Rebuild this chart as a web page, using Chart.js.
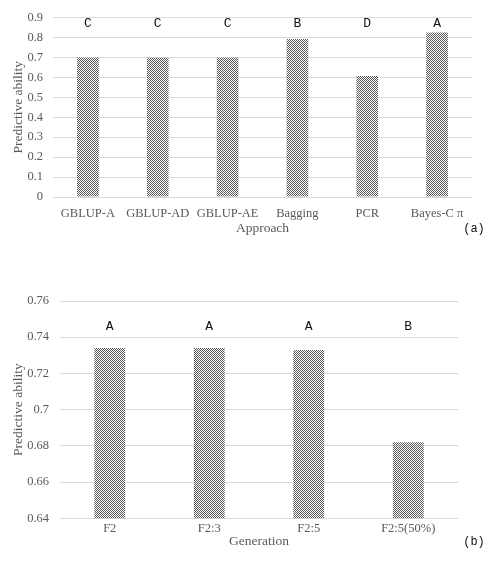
<!DOCTYPE html>
<html>
<head>
<meta charset="utf-8">
<script src="https://cdn.jsdelivr.net/npm/chart.js@4.4.0/dist/chart.umd.min.js"></script>
<style>
  body { margin: 0; background: #fff; }
  #wrapA { position: absolute; left: 0; top: 0; width: 490px; height: 250px; }
  #wrapB { position: absolute; left: 0; top: 270px; width: 490px; height: 291px; }
</style>
</head>
<body>
<div id="wrapA"><canvas id="chartA"></canvas></div>
<div id="wrapB"><canvas id="chartB"></canvas></div>
<script>
// Dados (a)
const approaches = ['GBLUP-A', 'GBLUP-AD', 'GBLUP-AE', 'Bagging', 'PCR', 'Bayes-C \u03c0'];
const abilityA = [0.70, 0.698, 0.70, 0.792, 0.607, 0.825];
const lettersA = ['C', 'C', 'C', 'B', 'D', 'A'];

// Dados (b)
const generations = ['F2', 'F2:3', 'F2:5', 'F2:5(50%)'];
const abilityB = [0.734, 0.734, 0.733, 0.682];
const lettersB = ['A', 'A', 'A', 'B'];

// Padrão xadrez das barras
const pc = document.createElement('canvas');
pc.width = 2; pc.height = 2;
const pctx = pc.getContext('2d');
pctx.fillStyle = '#ffffff';
pctx.fillRect(0, 0, 2, 2);
pctx.fillStyle = '#5a5a5a';
pctx.fillRect(0, 0, 1, 1);
pctx.fillRect(1, 1, 1, 1);
const pattern = pctx.createPattern(pc, 'repeat');

const gray = '#595959';
const serif = 'Liberation Serif';

// Letras acima das barras + rótulo do painel
function lettersPlugin(letters, letterY, tag, tagY) {
    return {
        id: 'letters',
        afterDatasetsDraw(chart) {
            const ctx = chart.ctx;
            const meta = chart.getDatasetMeta(0);
            const y = chart.scales.y.getPixelForValue(letterY);
            ctx.save();
            ctx.fillStyle = '#111';
            ctx.font = '13px "Liberation Mono"';
            ctx.textAlign = 'center';
            ctx.textBaseline = 'middle';
            meta.data.forEach(function(bar, i) {
                ctx.fillText(letters[i], bar.x, y);
            });
            ctx.font = '12px "Liberation Mono"';
            ctx.fillText(tag, 474, tagY);
            ctx.restore();
        }
    };
}

function makeConfig(labels, values, yMin, yMax, step, opts) {
    return {
        type: 'bar',
        data: {
            labels: labels,
            datasets: [{
                data: values,
                backgroundColor: pattern,
                borderWidth: 0,
                categoryPercentage: 1,
                barPercentage: 0.31
            }]
        },
        options: {
            responsive: true,
            maintainAspectRatio: false,
            animation: false,
            devicePixelRatio: 1,
            layout: { padding: { left: 0, right: opts.right, top: opts.top, bottom: 0 } },
            plugins: { legend: { display: false }, tooltip: { enabled: false } },
            scales: {
                x: {
                    grid: { display: false, drawTicks: false },
                    border: { display: false },
                    ticks: { color: gray, font: { family: serif, size: 12.5 }, padding: opts.xPad, maxRotation: 0 },
                    title: { display: true, text: opts.xTitle, color: gray, font: { family: serif, size: 13.5 }, padding: { top: 0, bottom: opts.xTitlePad } },
                    afterFit: function(s) { s.height = opts.xHeight; }
                },
                y: {
                    min: yMin,
                    max: yMax,
                    grid: { color: '#d9d9d9', drawTicks: false },
                    border: { display: false },
                    ticks: {
                        stepSize: step,
                        color: gray,
                        font: { family: serif, size: 12.5 },
                        padding: opts.yPad,
                        callback: function(v) { return String(Number(v.toFixed(2))); }
                    },
                    title: { display: true, text: 'Predictive ability', color: gray, font: { family: serif, size: 13.5 }, padding: { top: 10, bottom: 0 } },
                    afterFit: function(s) { s.width = opts.yWidth; }
                }
            }
        },
        plugins: [lettersPlugin(opts.letters, opts.letterY, opts.tag, opts.tagY)]
    };
}

const chartA = new Chart(document.getElementById('chartA'), makeConfig(approaches, abilityA, 0, 0.9, 0.1, {
    right: 18, top: 16, xHeight: 53, xPad: 9, xTitle: 'Approach', xTitlePad: 13,
    yWidth: 53, yPad: 10, letters: lettersA, letterY: 0.872, tag: '(a)', tagY: 229
}));

const chartB = new Chart(document.getElementById('chartB'), makeConfig(generations, abilityB, 0.64, 0.76, 0.02, {
    right: 32, top: 31, xHeight: 42.7, xPad: 3, xTitle: 'Generation', xTitlePad: 11.5,
    yWidth: 60, yPad: 11, letters: lettersB, letterY: 0.746, tag: '(b)', tagY: 272
}));
</script>
</body>
</html>
